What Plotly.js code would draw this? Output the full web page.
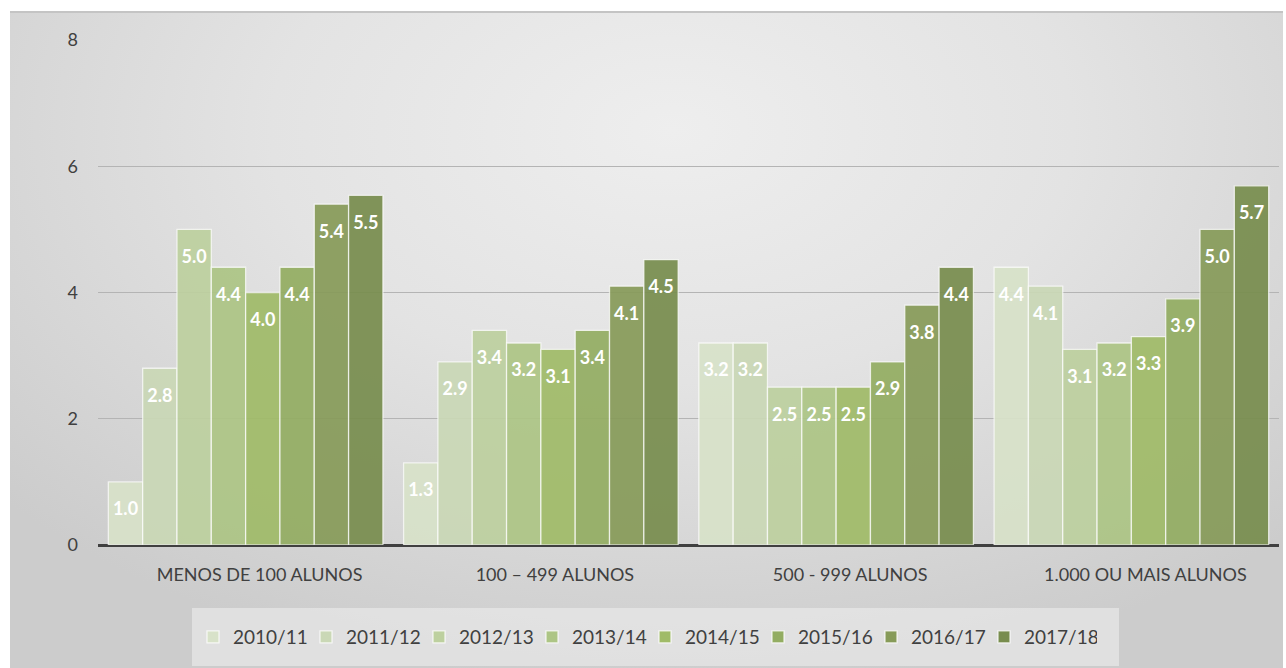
<!DOCTYPE html>
<html>
<head>
<meta charset="utf-8">
<script src="https://cdn.plot.ly/plotly-3.0.1.min.js"></script>
<style>
  html, body { margin: 0; padding: 0; background: #ffffff; }
  #bg {
    position: absolute; left: 10px; top: 11px; width: 1273px; height: 657px;
    border-top: 2px solid #c4c4c4;
    background: radial-gradient(ellipse 70% 85% at 52% 18%, #eeeeee 0%, #e3e3e3 45%, #cccccc 100%);
  }
  #chart { position: absolute; left: 0; top: 0; width: 1286px; height: 668px; }
</style>
</head>
<body>
<div id="bg"></div>
<div id="chart"></div>
<script>
const categories = ["MENOS DE 100 ALUNOS", "100 – 499 ALUNOS", "500 - 999 ALUNOS", "1.000 OU MAIS ALUNOS"];
const seriesNames = ["2010/11", "2011/12", "2012/13", "2013/14", "2014/15", "2015/16", "2016/17", "2017/18"];
const s2010 = [1.0, 1.3, 3.2, 4.4];
const s2011 = [2.8, 2.9, 3.2, 4.1];
const s2012 = [5.0, 3.4, 2.5, 3.1];
const s2013 = [4.4, 3.2, 2.5, 3.2];
const s2014 = [4.0, 3.1, 2.5, 3.3];
const s2015 = [4.4, 3.4, 2.9, 3.9];
const s2016 = [5.4, 4.1, 3.8, 5.0];
const s2017 = [5.54, 4.52, 4.4, 5.69];
const yTicks = [0, 2, 4, 6, 8];
const colors = ["#d8e2c9", "#cad8b6", "#bdd09f", "#adc585", "#a0bb68", "#93ad62", "#879b59", "#788d4e"];

const seriesValues = [s2010, s2011, s2012, s2013, s2014, s2015, s2016, s2017];
const FONT = "Lato, 'Open Sans', sans-serif";

const traces = seriesValues.map((vals, i) => ({
  type: "bar",
  name: seriesNames[i],
  x: categories,
  y: vals,
  marker: { color: colors[i], opacity: 0.92, line: { color: "rgba(255,255,255,0.75)", width: 1.3 } },
  texttemplate: "<span style='font-size:7px'> </span><br>%{y:.1f}",
  textposition: "inside",
  insidetextanchor: "end",
  textangle: 0,
  constraintext: "none",
  textfont: { family: FONT, size: 18, color: "#ffffff", weight: "bold" },
  hoverinfo: "skip"
}));

const layout = {
  width: 1286, height: 668,
  paper_bgcolor: "rgba(0,0,0,0)",
  plot_bgcolor: "rgba(0,0,0,0)",
  margin: { l: 98, r: 7, t: 40, b: 123 },
  barmode: "group",
  bargap: 0.07,
  bargroupgap: 0,
  showlegend: true,
  font: { family: FONT, color: "#404040" },
  xaxis: {
    type: "category",
    tickfont: { family: FONT, size: 18, color: "#404040" },
    ticks: "", showgrid: false, zeroline: false,
    showline: false,
    ticklabelstandoff: 17,
    ticklabelshift: 14
  },
  yaxis: {
    range: [0, 8],
    tickvals: yTicks,
    tickfont: { family: FONT, size: 18, color: "#404040" },
    showgrid: true, gridcolor: "#b4b4b4", gridwidth: 1,
    zeroline: true, zerolinecolor: "#404040", zerolinewidth: 3,
    ticks: "", ticklabelstandoff: 19,
    fixedrange: true
  },
  shapes: [{
    type: "rect", xref: "paper", yref: "paper", layer: "below",
    x0: (192 - 98) / 1181, x1: (1119 - 98) / 1181,
    y0: (545 - 666) / 505, y1: (545 - 608) / 505,
    fillcolor: "rgba(236,236,236,0.6)", line: { width: 0 }
  }],
  legend: {
    orientation: "h",
    x: (193 - 98) / 1181, xanchor: "left",
    y: (545 - 637) / 505, yanchor: "middle",
    bgcolor: "rgba(0,0,0,0)",
    borderwidth: 0,
    font: { family: FONT, size: 19, color: "#404040" },
    entrywidth: 68,
    entrywidthmode: "pixels",
    traceorder: "normal"
  }
};

Plotly.newPlot("chart", traces, layout, { displayModeBar: false, staticPlot: true });
</script>
</body>
</html>
